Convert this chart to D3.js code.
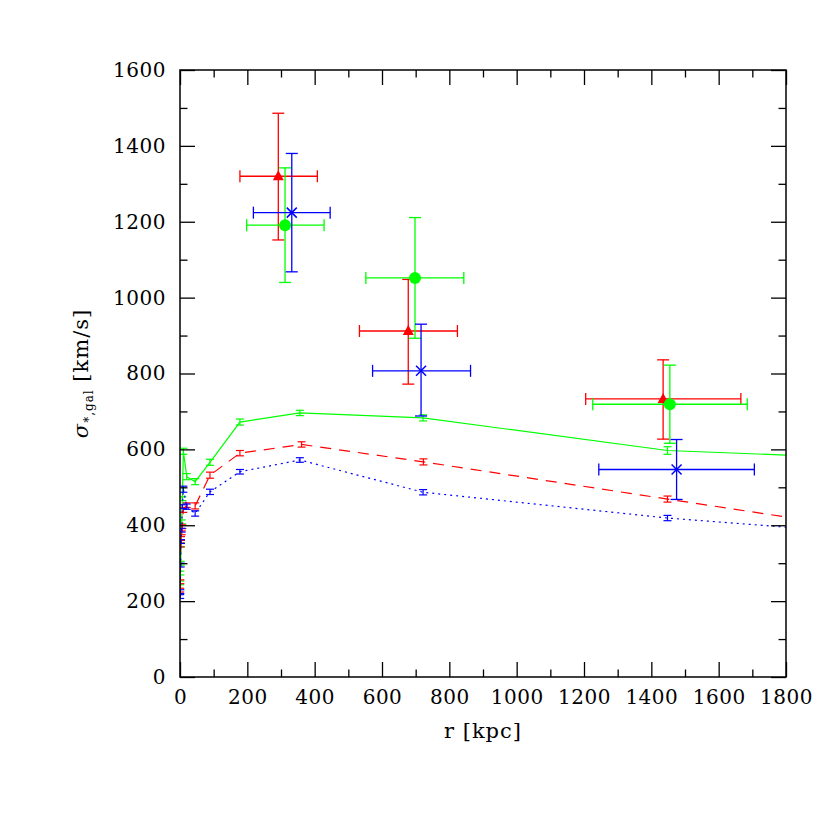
<!DOCTYPE html>
<html><head><meta charset="utf-8">
<script src="https://cdn.jsdelivr.net/npm/d3@7"></script>
<style>body{margin:0;background:#fff}svg{display:block}</style>
</head><body><svg id="c" width="830" height="830"></svg>
<script>
// ---- data ----
const xTicks = [0,200,400,600,800,1000,1200,1400,1600,1800];
const yTicks = [0,200,400,600,800,1000,1200,1400,1600];

const greenR = [0.5,1,2,3,5,7,10,20,45,89,178,356,722,1448,2900];
const greenV = [248,274,300,348,409,470,595,528,515,566,672,696,683,597,547];
const greenE = [5,5,5,5,5,5,8,8,8,8,8,7,8,10,10];

const redR = [0.5,1,2,3,5,7,10,20,45,89,178,361,723,1448,2900];
const redV = [229,251,348,365,380,396,440,453,451,532,590,613,567,469,274];
const redE = [5,5,5,5,5,5,6,6,8,8,7,7,8,8,8];

const blueR = [0.5,1,2,3,5,7,10,20,45,89,178,356,722,1448,2900];
const blueV = [212,225,295,357,387,449,495,449,431,488,541,572,487,419,320];
const blueE = [5,5,5,5,5,5,8,7,7,7,6,6,7,7,7];

// big points with x and y error ranges
const redPtsR  = [292, 678, 1435];
const redPtsV  = [1320, 912, 733];
const redPtsRlo = [178, 533, 1205], redPtsRhi = [408, 824, 1666];
const redPtsVlo = [1152, 772, 627], redPtsVhi = [1486, 1048, 836];

const greenPtsR = [312, 698, 1455];
const greenPtsV = [1191, 1052, 719];
const greenPtsRlo = [198, 552, 1226], greenPtsRhi = [428, 843, 1685];
const greenPtsVlo = [1040, 893, 616], greenPtsVhi = [1342, 1211, 822];

const bluePtsR = [332, 716, 1475];
const bluePtsV = [1224, 807, 547];
const bluePtsRlo = [218, 572, 1244], bluePtsRhi = [446, 863, 1706];
const bluePtsVlo = [1068, 688, 468], bluePtsVhi = [1380, 930, 626];

// ---- layout ----
const L = 180, R = 786, T = 70, B = 677;
const svg = d3.select('#c');
const x = d3.scaleLinear().domain([0,1800]).range([L,R]);
const y = d3.scaleLinear().domain([0,1600]).range([B,T]);
const font = "'DejaVu Serif', serif";

svg.append('defs').append('clipPath').attr('id','clip')
  .append('rect').attr('x',L).attr('y',T).attr('width',R-L).attr('height',B-T);
const plot = svg.append('g').attr('clip-path','url(#clip)');

const RED='#ff0000', GREEN='#00ff00', BLUE='#0000ff';

function curve(rs, vs, es, color, dash){
  const pts = rs.map((r,i)=>({r, v:vs[i], e:es[i]}));
  plot.append('path').datum(pts)
    .attr('d', d3.line().x(d=>x(d.r)).y(d=>y(d.v)))
    .attr('fill','none').attr('stroke',color).attr('stroke-width',1.2)
    .attr('stroke-dasharray', dash);
  const g = plot.append('g').attr('stroke',color).attr('stroke-width',1.2);
  pts.forEach(d=>{
    const cx = x(d.r);
    g.append('line').attr('x1',cx).attr('x2',cx).attr('y1',y(d.v-d.e)).attr('y2',y(d.v+d.e));
    g.append('line').attr('x1',cx-4).attr('x2',cx+4).attr('y1',y(d.v-d.e)).attr('y2',y(d.v-d.e));
    g.append('line').attr('x1',cx-4).attr('x2',cx+4).attr('y1',y(d.v+d.e)).attr('y2',y(d.v+d.e));
  });
}
curve(greenR, greenV, greenE, GREEN, null);
curve(redR, redV, redE, RED, '11,8');
curve(blueR, blueV, blueE, BLUE, '2,4');

function bigPts(rs, vs, rlo, rhi, vlo, vhi, color, shape){
  const g = plot.append('g').attr('stroke',color).attr('stroke-width',1.3);
  rs.forEach((r,i)=>{
    const cx=x(r), cy=y(vs[i]);
    const xl=x(rlo[i]), xr=x(rhi[i]), yt=y(vhi[i]), yb=y(vlo[i]);
    g.append('line').attr('x1',xl).attr('x2',xr).attr('y1',cy).attr('y2',cy);
    g.append('line').attr('x1',cx).attr('x2',cx).attr('y1',yt).attr('y2',yb);
    g.append('line').attr('x1',xl).attr('x2',xl).attr('y1',cy-6).attr('y2',cy+6);
    g.append('line').attr('x1',xr).attr('x2',xr).attr('y1',cy-6).attr('y2',cy+6);
    g.append('line').attr('x1',cx-6).attr('x2',cx+6).attr('y1',yt).attr('y2',yt);
    g.append('line').attr('x1',cx-6).attr('x2',cx+6).attr('y1',yb).attr('y2',yb);
    if(shape==='tri'){
      g.append('path').attr('d',`M${cx},${cy-6}L${cx+5.5},${cy+4}L${cx-5.5},${cy+4}Z`)
        .attr('fill',color).attr('stroke','none');
    } else if(shape==='circ'){
      g.append('circle').attr('cx',cx).attr('cy',cy).attr('r',6).attr('fill',color).attr('stroke','none');
    } else {
      const s=5;
      g.append('path').attr('d',`M${cx-s},${cy-s}L${cx+s},${cy+s}M${cx-s},${cy+s}L${cx+s},${cy-s}`)
        .attr('fill','none').attr('stroke-width',1.5);
    }
  });
}
bigPts(redPtsR, redPtsV, redPtsRlo, redPtsRhi, redPtsVlo, redPtsVhi, RED, 'tri');
bigPts(greenPtsR, greenPtsV, greenPtsRlo, greenPtsRhi, greenPtsVlo, greenPtsVhi, GREEN, 'circ');
bigPts(bluePtsR, bluePtsV, bluePtsRlo, bluePtsRhi, bluePtsVlo, bluePtsVhi, BLUE, 'x');

// ---- axes (ticks inward on all sides) ----
const major=15, minor=7.5;
const xMinor = d3.range(100,1800,200);
const yMinor = d3.range(100,1600,200);
function styleAxis(g){ g.select('.domain').remove(); g.selectAll('.tick line').attr('stroke','#000').attr('stroke-width',1.3); }
function styleText(g){ g.selectAll('text').attr('font-family',font).attr('font-size',20).attr('fill','#000').attr('letter-spacing',0.5); }

svg.append('g').attr('transform',`translate(0,${B})`)
  .call(d3.axisBottom(x).tickValues(xTicks).tickSize(-major).tickPadding(13).tickFormat(d3.format('d')))
  .call(styleAxis).call(styleText);
svg.append('g').attr('transform',`translate(0,${B})`)
  .call(d3.axisBottom(x).tickValues(xMinor).tickSize(-minor).tickFormat('')).call(styleAxis);
svg.append('g').attr('transform',`translate(0,${T})`)
  .call(d3.axisTop(x).tickValues(xTicks).tickSize(-major).tickFormat('')).call(styleAxis);
svg.append('g').attr('transform',`translate(0,${T})`)
  .call(d3.axisTop(x).tickValues(xMinor).tickSize(-minor).tickFormat('')).call(styleAxis);

svg.append('g').attr('transform',`translate(${L},0)`)
  .call(d3.axisLeft(y).tickValues(yTicks).tickSize(-major).tickPadding(14).tickFormat(d3.format('d')))
  .call(styleAxis).call(styleText);
svg.append('g').attr('transform',`translate(${L},0)`)
  .call(d3.axisLeft(y).tickValues(yMinor).tickSize(-minor).tickFormat('')).call(styleAxis);
svg.append('g').attr('transform',`translate(${R},0)`)
  .call(d3.axisRight(y).tickValues(yTicks).tickSize(-major).tickFormat('')).call(styleAxis);
svg.append('g').attr('transform',`translate(${R},0)`)
  .call(d3.axisRight(y).tickValues(yMinor).tickSize(-minor).tickFormat('')).call(styleAxis);

svg.append('rect').attr('x',L).attr('y',T).attr('width',R-L).attr('height',B-T)
  .attr('fill','none').attr('stroke','#000').attr('stroke-width',1.5);

// ---- labels ----
svg.append('text').attr('x',(L+R)/2).attr('y',738).attr('text-anchor','middle')
  .attr('font-family',font).attr('font-size',21).attr('letter-spacing',1).text('r [kpc]');

const yl = svg.append('text').attr('transform',`translate(88,${(T+B)/2}) rotate(-90)`)
  .attr('text-anchor','middle').attr('font-family',font).attr('font-size',21).attr('letter-spacing',1);
yl.append('tspan').attr('font-style','italic').text('σ');
yl.append('tspan').attr('font-size',12).attr('dy',5).text('*,gal');
yl.append('tspan').attr('dy',-5).text('  [km/s]');
</script></body></html>
